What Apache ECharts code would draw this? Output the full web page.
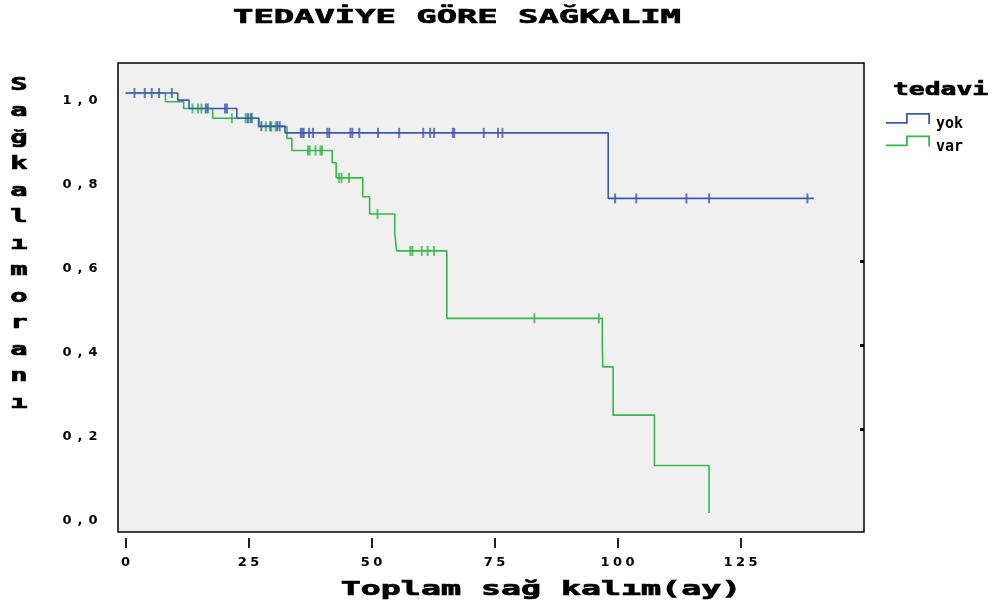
<!DOCTYPE html>
<html><head><meta charset="utf-8">
<script src="https://cdn.jsdelivr.net/npm/echarts@6/dist/echarts.min.js"></script>
<style>html,body{margin:0;padding:0;background:#fff}#c{width:993px;height:606px}</style>
</head><body><div id="c"></div>
<script>
// ---- texts / ticks ----
const chartTitle = 'TEDAVİYE GÖRE SAĞKALIM';
const xAxisTitle = 'Toplam sağ kalım(ay)';
const yAxisTitle = 'Sağkalım oranı';
const legendTitle = 'tedavi';
const groupNames = ['yok', 'var'];
const xTickValues = [0, 25, 50, 75, 100, 125];
const xTickLabels = ['0', '25', '50', '75', '100', '125'];
const yTickValues = [0, 0.2, 0.4, 0.6, 0.8, 1.0];
const yTickLabels = ['0,0', '0,2', '0,4', '0,6', '0,8', '1,0'];

// ---- group "yok" (Kaplan-Meier) ----
const yokEventTimes = [10.6, 12.9, 22.6, 27.1, 32.4, 98.1];
const yokSurvival   = [0.983, 0.963, 0.940, 0.921, 0.905, 0.749];
const yokEndTime = 139.9;
const yokCensorTimes = [1.8, 3.9, 5.3, 6.8, 9.4, 16.3, 16.7, 20.2, 20.6,
  24.8, 25.5, 27.6, 29.4, 30.8, 31.3, 35.6, 35.9, 36.2, 37.3, 38.1, 41.0, 41.4,
  45.7, 46.1, 47.5, 51.3, 55.6, 60.5, 61.9, 62.7, 66.5, 66.8, 72.8, 75.7, 76.6,
  99.5, 103.8, 114.0, 118.6, 138.6];

// ---- group "var" (Kaplan-Meier) ----
const varEventTimes = [8.1, 11.8, 17.7, 27.0, 32.8, 33.8, 42.0, 42.8, 48.2, 49.6,
  54.7, 55.1, 65.3, 96.9, 97.0, 99.1, 107.5, 118.6];
const varSurvival   = [0.979, 0.963, 0.940, 0.920, 0.892, 0.863, 0.834, 0.798, 0.753, 0.712,
  0.666, 0.624, 0.4635, 0.406, 0.348, 0.233, 0.113, 0.0];
const varCensorTimes = [13.6, 14.7, 15.4, 21.6, 24.4, 25.0, 25.7, 28.5, 29.6, 30.5,
  37.1, 37.4, 38.6, 39.6, 39.9, 43.4, 43.9, 45.4, 51.2, 57.9, 58.3, 60.2, 61.4, 62.7,
  83.1, 96.2];

const BLUE = '#3d5ab3';
const GREEN = '#34b84b';
const FONT = '"DejaVu Sans Mono", "Liberation Mono", monospace';
const FONT_NUM = '"DejaVu Sans", "Liberation Sans", sans-serif';

function stepData(times, surv, endTime) {
  const d = [[0, 1]];
  times.forEach((t, i) => d.push([t, surv[i]]));
  if (endTime != null) d.push([endTime, surv[surv.length - 1]]);
  return d;
}
function survAt(times, surv, t) {
  let s = 1;
  for (let i = 0; i < times.length; i++) if (times[i] <= t) s = surv[i];
  return s;
}
function censorData(ct, times, surv) {
  return ct.map(t => [t, survAt(times, surv, t)]);
}
function spaced(str) {
  return str.split('').map(c => '{d|' + c + '}').join('');
}
function labelFor(vals, labels, v) {
  for (let i = 0; i < vals.length; i++) if (Math.abs(vals[i] - v) < 1e-9) return labels[i];
  return '';
}

const chart = echarts.init(document.getElementById('c'), null, {renderer: 'canvas'});
const stacked = yAxisTitle.replace(/\s+/g, '').split('').join('\n');
const heavy = {stroke: '#000', lineWidth: 0.7};

chart.setOption({
  animation: false,
  backgroundColor: '#ffffff',
  grid: {
    left: 118, right: 129, top: 63, bottom: 74,
    show: true, backgroundColor: '#f0f0f0', borderColor: '#000', borderWidth: 1.5
  },
  xAxis: {
    type: 'value', min: -1.55, max: 150.1, offset: 6,
    axisLine: {show: false, onZero: false},
    splitLine: {show: false},
    axisTick: {show: true, customValues: xTickValues, length: 10, lineStyle: {color: '#222', width: 2}},
    axisLabel: {
      customValues: xTickValues, margin: 18,
      formatter: v => spaced(labelFor(xTickValues, xTickLabels, v)),
      rich: {d: {width: 12.5, align: 'center', fontFamily: FONT_NUM, fontWeight: 'bold', fontSize: 13, color: '#000'}}
    }
  },
  yAxis: [{
    type: 'value', min: -0.0452, max: 1.0714,
    axisLine: {show: false, onZero: false}, splitLine: {show: false}, axisTick: {show: false},
    axisLabel: {
      customValues: yTickValues, margin: 38, align: 'center', padding: [16, 0, 0, 0],
      formatter: v => spaced(labelFor(yTickValues, yTickLabels, v)),
      rich: {d: {width: 13, align: 'center', fontFamily: FONT_NUM, fontWeight: 'bold', fontSize: 13, color: '#000'}}
    }
  }, {
    type: 'value', min: -0.0452, max: 1.0714, position: 'right',
    axisLine: {show: false, onZero: false}, splitLine: {show: false}, axisLabel: {show: false},
    axisTick: {show: true, inside: true, length: 4, customValues: [0.2, 0.4, 0.6], lineStyle: {color: '#000', width: 3}}
  }],
  legend: {
    orient: 'vertical', left: 881, top: 108, itemWidth: 44, itemHeight: 11, itemGap: 3.5,
    icon: 'path://M0,9L20,9L20,0L44,0L44,11L42.2,11L42.2,1.8L21.8,1.8L21.8,10.8L0,10.8Z',
    selectedMode: false,
    data: [
      {name: groupNames[0], itemStyle: {color: BLUE, borderWidth: 0}},
      {name: groupNames[1], itemStyle: {color: GREEN, borderWidth: 0}}
    ],
    formatter: name => '{t|' + name + '}',
    textStyle: {
      fontFamily: FONT, fontWeight: 'bold', fontSize: 15, color: '#000',
      rich: {t: {fontFamily: FONT, fontWeight: 'bold', fontSize: 15, color: '#000', padding: [12, 0, 0, 1]}}
    }
  },
  graphic: [
    {type: 'text', x: 457, y: 18, scaleX: 1.78, silent: true,
      style: Object.assign({text: chartTitle, fontFamily: FONT, fontWeight: 'bold', fontSize: 19, fill: '#000', align: 'center', verticalAlign: 'middle'}, heavy)},
    {type: 'text', x: 541, y: 590, scaleX: 1.75, silent: true,
      style: Object.assign({text: xAxisTitle, fontFamily: FONT, fontWeight: 'bold', fontSize: 19, fill: '#000', align: 'center', verticalAlign: 'middle'}, heavy)},
    {type: 'text', x: 19, y: 72, scaleX: 1.6, silent: true,
      style: Object.assign({text: stacked, fontFamily: FONT, fontWeight: 'bold', fontSize: 18, lineHeight: 26.5, fill: '#000', align: 'center', verticalAlign: 'top'}, heavy)},
    {type: 'text', x: 893, y: 91, scaleX: 1.55, silent: true,
      style: Object.assign({text: legendTitle, fontFamily: FONT, fontWeight: 'bold', fontSize: 17, fill: '#000', align: 'left', verticalAlign: 'middle'}, heavy)}
  ],
  series: [
    {name: groupNames[1], type: 'line', step: 'end', showSymbol: false, symbol: 'none',
      lineStyle: {color: GREEN, width: 1.6}, itemStyle: {color: GREEN},
      data: stepData(varEventTimes, varSurvival, null), z: 2},
    {name: groupNames[1] + '-censor', type: 'scatter', symbol: 'rect', symbolSize: [2, 10],
      itemStyle: {color: GREEN}, data: censorData(varCensorTimes, varEventTimes, varSurvival), z: 2},
    {name: groupNames[0], type: 'line', step: 'end', showSymbol: false, symbol: 'none',
      lineStyle: {color: BLUE, width: 1.6}, itemStyle: {color: BLUE},
      data: stepData(yokEventTimes, yokSurvival, yokEndTime), z: 3},
    {name: groupNames[0] + '-censor', type: 'scatter', symbol: 'rect', symbolSize: [2, 10],
      itemStyle: {color: BLUE}, data: censorData(yokCensorTimes, yokEventTimes, yokSurvival), z: 3}
  ]
});
</script></body></html>
